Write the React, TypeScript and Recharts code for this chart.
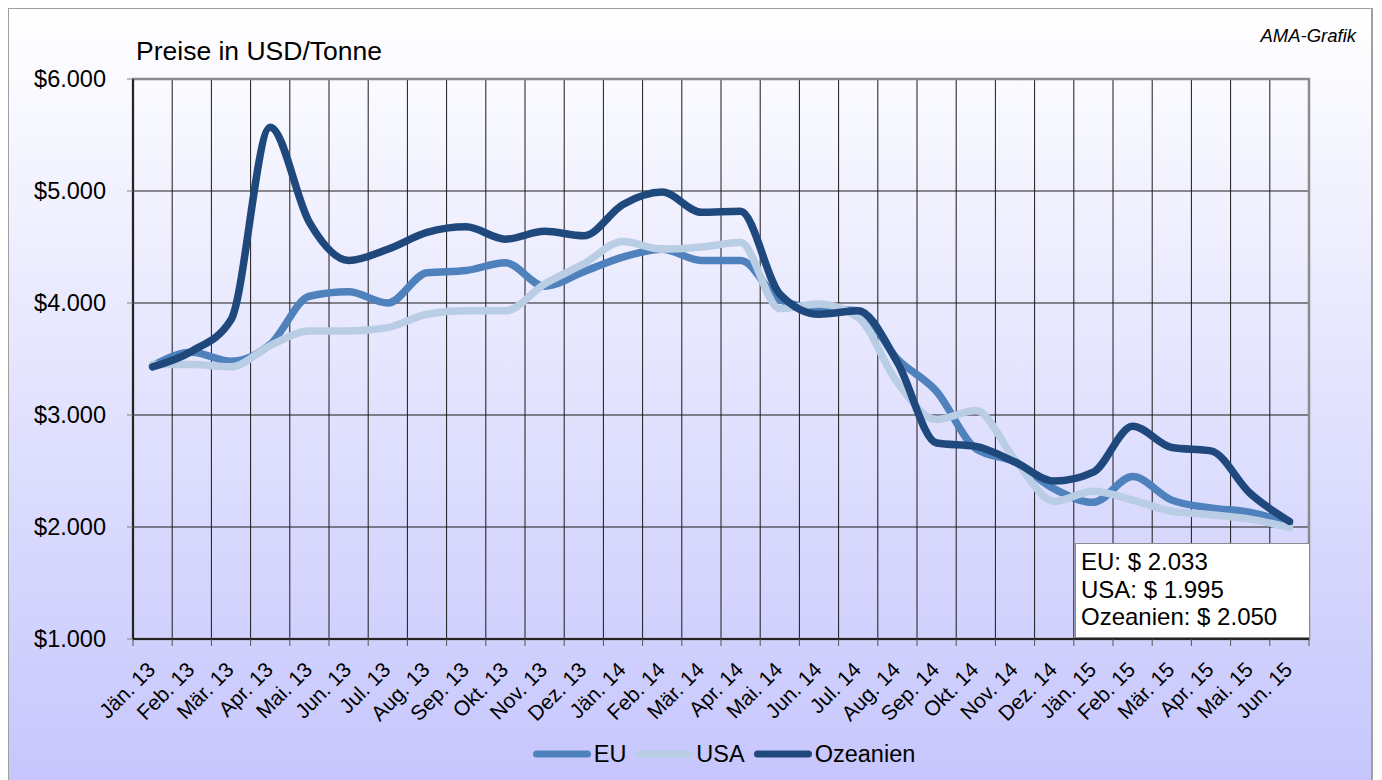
import React from 'react';
import { LineChart, Line, XAxis, YAxis, CartesianGrid, Legend, ReferenceArea } from 'recharts';

const months = [
  'Jän. 13', 'Feb. 13', 'Mär. 13', 'Apr. 13', 'Mai. 13', 'Jun. 13', 'Jul. 13', 'Aug. 13', 'Sep. 13', 'Okt. 13',
  'Nov. 13', 'Dez. 13', 'Jän. 14', 'Feb. 14', 'Mär. 14', 'Apr. 14', 'Mai. 14', 'Jun. 14', 'Jul. 14', 'Aug. 14',
  'Sep. 14', 'Okt. 14', 'Nov. 14', 'Dez. 14', 'Jän. 15', 'Feb. 15', 'Mär. 15', 'Apr. 15', 'Mai. 15', 'Jun. 15',
];

const eu = [
  3440, 3560, 3480, 3630, 4060, 4100, 4000, 4270, 4290, 4360,
  4150, 4280, 4410, 4480, 4380, 4380, 4030, 3950, 3930, 3500,
  3210, 2700, 2580, 2340, 2220, 2450, 2240, 2170, 2130, 2033,
];

const usa = [
  3450, 3450, 3430, 3620, 3750, 3750, 3780, 3900, 3930, 3930,
  4170, 4350, 4550, 4480, 4500, 4540, 3950, 3990, 3870, 3290,
  2960, 3040, 2600, 2230, 2320, 2240, 2140, 2110, 2070, 1995,
];

const ozeanien = [
  3430, 3570, 3850, 5570, 4720, 4380, 4480, 4630, 4680, 4570,
  4640, 4600, 4880, 4990, 4810, 4820, 4080, 3900, 3930, 3470,
  2750, 2720, 2580, 2410, 2490, 2900, 2710, 2680, 2300, 2050,
];

const yTicks = [1000, 2000, 3000, 4000, 5000, 6000];

const series = [
  { key: 'eu', name: 'EU', color: '#4f81bd', values: eu },
  { key: 'usa', name: 'USA', color: '#b9cde5', values: usa },
  { key: 'ozeanien', name: 'Ozeanien', color: '#1f497d', values: ozeanien },
];

// x is a position in category units so points sit in the middle of each band
const data = months.map((m, i) => ({
  pos: i + 0.5,
  month: m,
  eu: eu[i],
  usa: usa[i],
  ozeanien: ozeanien[i],
}));

const labelTicks = months.map((_, i) => i + 0.5);
const gridTicks = Array.from({ length: months.length + 1 }, (_, i) => i);

const FONT = '"Liberation Sans", Arial, sans-serif';

const dots = (v: number) => String(v).replace(/\B(?=(\d{3})+(?!\d))/g, '.');

const NoLabel = () => <g />;

const MonthTick = ({ x, y, payload }: any) => (
  <g transform={`translate(${x},${y})`}>
    <text
      x={4}
      y={24}
      textAnchor="end"
      transform="rotate(-45 4 24)"
      fontSize={21}
      fill="#000"
    >
      {months[Math.round(payload.value - 0.5)]}
    </text>
  </g>
);

const LegendContent = () => (
  <div style={{ display: 'flex', justifyContent: 'center', alignItems: 'center', height: 30 }}>
    {series.map((s, i) => (
      <div key={s.key} style={{ display: 'flex', alignItems: 'center', marginLeft: i === 0 ? 0 : 9 }}>
        <svg width={58} height={10}>
          <line x1={3.5} y1={5} x2={54.5} y2={5} stroke={s.color} strokeWidth={7} strokeLinecap="round" />
        </svg>
        <span style={{ fontSize: 23.5, marginLeft: 3, color: '#000' }}>{s.name}</span>
      </div>
    ))}
  </div>
);

export default function App() {
  const last = months.length - 1;
  return (
    <div
      style={{
        position: 'relative',
        width: 1366,
        height: 776,
        boxSizing: 'border-box',
        border: '2px solid #a0a0a0',
        marginLeft: -1,
        marginTop: -1,
        background: 'linear-gradient(to bottom, #ffffff 0%, #f4f4ff 20%, #c6c6fd 100%)',
        fontFamily: FONT,
      }}
    >
      <div style={{ position: 'absolute', left: 127, top: 29, fontSize: 26.5, lineHeight: '26.5px', color: '#000' }}>
        Preise in USD/Tonne
      </div>
      <div
        style={{
          position: 'absolute',
          right: 15,
          top: 18,
          fontSize: 18.5,
          lineHeight: '18.5px',
          fontStyle: 'italic',
          color: '#000',
        }}
      >
        AMA-Grafik
      </div>

      <LineChart width={1362} height={772} data={data} margin={{ top: 70, right: 62, left: 0, bottom: 0 }}>
        <CartesianGrid stroke="#1a1a1a" strokeWidth={1} />
        <ReferenceArea
          x1={0}
          x2={30}
          y1={1000}
          y2={6000}
          fill="none"
          stroke="#8c8c8c"
          strokeWidth={2.5}
          ifOverflow="visible"
        />
        <XAxis
          type="number"
          dataKey="pos"
          domain={[0, months.length]}
          ticks={gridTicks}
          interval={0}
          tick={<NoLabel />}
          tickSize={7}
          height={8}
          axisLine={{ stroke: '#000', strokeWidth: 1.5 }}
          tickLine={{ stroke: '#555' }}
        />
        <XAxis
          xAxisId="lbl"
          type="number"
          dataKey="pos"
          domain={[0, months.length]}
          ticks={labelTicks}
          interval={0}
          tick={<MonthTick />}
          tickSize={0}
          tickMargin={0}
          height={104}
          axisLine={false}
          tickLine={false}
        />
        <YAxis
          domain={[1000, 6000]}
          ticks={yTicks}
          interval={0}
          width={124}
          tickSize={6}
          tickMargin={21}
          tickFormatter={(v: number) => `$${dots(v)}`}
          tick={{ fontSize: 23.5, fill: '#000' }}
          axisLine={{ stroke: '#000', strokeWidth: 1.5 }}
          tickLine={{ stroke: '#808080' }}
        />
        {series.map((s) => (
          <Line
            key={s.key}
            xAxisId="lbl"
            type="monotone"
            dataKey={s.key}
            name={s.name}
            stroke={s.color}
            strokeWidth={7.5}
            strokeLinecap="round"
            strokeLinejoin="round"
            dot={false}
            activeDot={false}
            isAnimationActive={false}
          />
        ))}
        <Legend
          verticalAlign="bottom"
          content={<LegendContent />}
          wrapperStyle={{ left: 127, width: 1176, height: 30, top: 730 }}
        />
      </LineChart>

      <div
        style={{
          position: 'absolute',
          left: 1066,
          top: 534,
          width: 235,
          height: 95,
          boxSizing: 'border-box',
          background: '#fff',
          border: '1.5px solid #8c8c8c',
          padding: '4px 0 0 5px',
          fontSize: 24,
          lineHeight: '27.5px',
          color: '#000',
        }}
      >
        {series.map((s) => (
          <div key={s.key}>
            {s.name}: $ {dots(s.values[last])}
          </div>
        ))}
      </div>
    </div>
  );
}
